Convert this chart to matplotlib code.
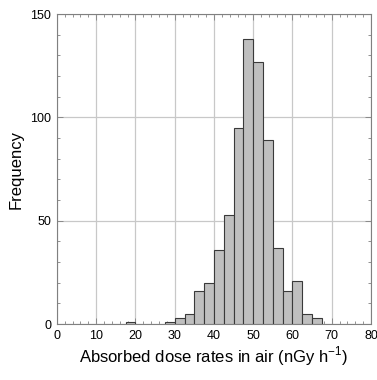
import numpy as np
import matplotlib
matplotlib.use("Agg")
import matplotlib.pyplot as plt
from matplotlib.ticker import MultipleLocator

# bin left edges (nGy/h) and counts, bin width 2.5
bin_left = [17.5, 27.5, 30.0, 32.5, 35.0, 37.5, 40.0, 42.5, 45.0, 47.5,
            50.0, 52.5, 55.0, 57.5, 60.0, 62.5, 65.0]
counts = [1, 1, 3, 5, 16, 20, 36, 53, 95, 138, 127, 89, 37, 16, 21, 5, 3]
bin_width = 2.5

plt.rcParams['font.family'] = ['Liberation Sans', 'DejaVu Sans']

fig = plt.figure(figsize=(3.77, 3.80), dpi=100)
ax = fig.add_axes([0.151, 0.147, 0.833, 0.816])

ax.bar(bin_left, counts, width=bin_width, align='edge',
       color='#bfbfbf', edgecolor='#3a3a3a', linewidth=0.8, zorder=3)

ax.set_xlim(0, 80)
ax.set_ylim(0, 150)
ax.xaxis.set_major_locator(MultipleLocator(10))
ax.xaxis.set_minor_locator(MultipleLocator(2))
ax.yaxis.set_major_locator(MultipleLocator(50))
ax.yaxis.set_minor_locator(MultipleLocator(10))

ax.grid(True, which='major', color='#c8c8c8', linewidth=0.9, zorder=0)
ax.tick_params(which='both', direction='in', top=True, right=True,
               colors='#808080', labelcolor='black', labelsize=9)
ax.tick_params(which='major', length=4, width=0.6, pad=4)
ax.tick_params(which='minor', length=2.5, width=0.6)
for s in ax.spines.values():
    s.set_color('#808080')
    s.set_linewidth(0.8)

ax.set_xlabel('Absorbed dose rates in air (nGy h$^{\\mathregular{-1}}$)', fontsize=12, labelpad=2)
ax.set_ylabel('Frequency', fontsize=12, labelpad=5)

fig.savefig('out.png', dpi=100)
